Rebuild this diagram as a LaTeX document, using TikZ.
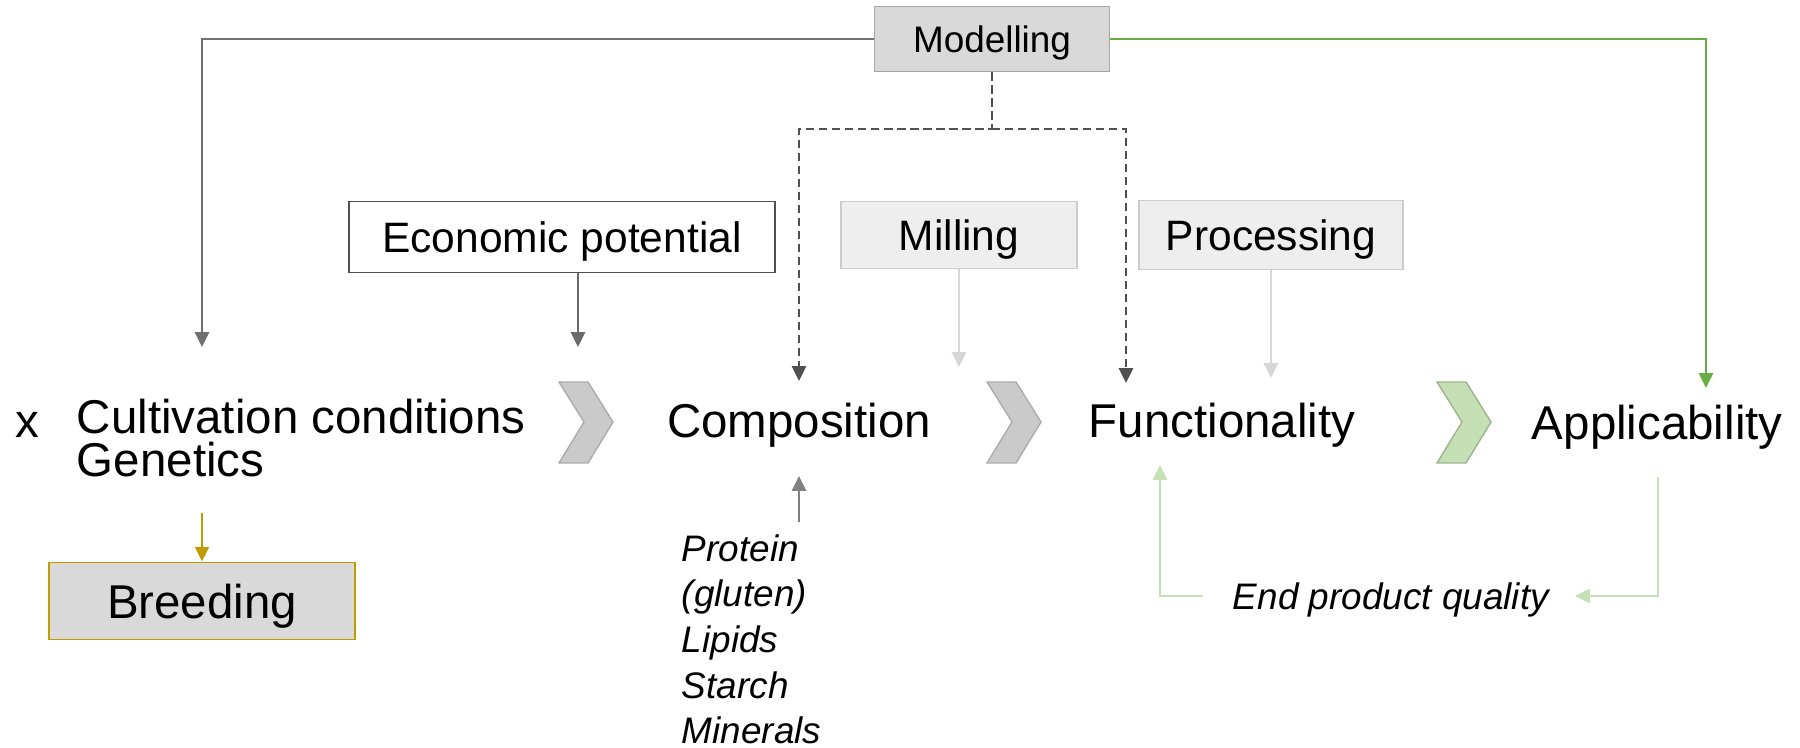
\documentclass[tikz,border=0pt]{standalone}
\usepackage{fontspec}
\setmainfont{Liberation Sans}
\usepackage{tikz}
\usetikzlibrary{positioning, arrows.meta}
\definecolor{whbox}{HTML}{D9D9D9}
\definecolor{whedge}{HTML}{A6A6A6}
\definecolor{whline}{HTML}{707070}
\definecolor{whdark}{HTML}{505050}
\definecolor{whlight}{HTML}{EEEEEE}
\definecolor{whlightedge}{HTML}{CCCCCC}
\definecolor{whlightarr}{HTML}{D6D6D6}
\definecolor{whgold}{HTML}{BF9C00}
\definecolor{whgreen}{HTML}{6AAD45}
\definecolor{whpale}{HTML}{C5E0B4}
\definecolor{whchev}{HTML}{CACACA}
\newcommand\fsbig{\fontsize{13.5}{12.5}\selectfont}
\newcommand\fsmid{\fontsize{12.1}{14}\selectfont}
\newcommand\fssmall{\fontsize{10.5}{13}\selectfont}

\begin{document}
\begin{tikzpicture}[x=0.1mm, y=-0.1mm, line width=0.55pt,
        >={Triangle[length=4.2pt, width=4pt]},
        box/.style={draw, inner sep=0pt, font=\fsmid, text height=8.7pt, text depth=0pt},
        lab/.style={inner sep=0pt, font=\fsbig},
        note/.style={inner sep=0pt, font=\fssmall\itshape, align=left},
        chev/.pic={\path[pic actions] (0,0) -- (29,0) -- (54,40) -- (29,81) -- (0,81) -- (25,40) -- cycle;}]
        \useasboundingbox (0,0) rectangle (1800,748);
        % boxes
        \node[box, fill=whbox, draw=whedge, font=\fssmall, text height=7.5pt, minimum width=23.5mm, minimum height=6.5mm] (model) at (992,39) {Modelling};
        \node[box, draw=whdark, minimum width=42.6mm, minimum height=7.1mm] (econ) at (562,237) {Economic potential};
        \node[box, fill=whlight, draw=whlightedge, minimum width=23.6mm, minimum height=6.7mm] (mill) at (959,235) {Milling};
        \node[box, fill=whlight, draw=whlightedge, minimum width=26.4mm, minimum height=6.9mm] (proc) at (1271,235) {Processing};
        \node[box, fill=whbox, draw=whgold, font=\fsbig, text height=9.7pt, minimum width=30.6mm, minimum height=7.7mm] (breed) at (202,601) {Breeding};
        % main row
        \node[lab, anchor=base west] (cross) at (15,438) {x};
        \node[lab, anchor=base west, align=left] (cult) at (76,477) {Cultivation conditions\\Genetics};
        \node[lab, anchor=base] (comp) at (799,438) {Composition};
        \node[lab, anchor=base west] (func) at (1088,438) {Functionality};
        \node[lab, anchor=base west] (appl) at (1531,440) {Applicability};
        \node[note, anchor=base west] (parts) at (681,744) {Protein\\(gluten)\\Lipids\\Starch\\Minerals};
        \node[note, anchor=base west] (endq) at (1232,610) {End product quality};
        \pic[fill=whchev, draw=whchev!85!black, line width=0.4pt] at (559,382) {chev};
        \pic[fill=whchev, draw=whchev!85!black, line width=0.4pt] at (987,382) {chev};
        \pic[fill=whpale, draw=whpale!80!black, line width=0.4pt] at (1437,382) {chev};
        % arrow ends
        \coordinate (cultin) at (202,347);
        \coordinate (econin) at (578,347);
        \coordinate (dsplit) at (992,129);
        \coordinate (compin) at (799,381);
        \coordinate (funcin) at (1126,383);
        \coordinate (millin) at (959,367);
        \coordinate (procin) at (1271,378);
        \coordinate (appin) at (1706,388);
        \coordinate (cultout) at (202,513);
        \coordinate (partsout) at (799,522);
        \coordinate (compup) at (799,476);
        \coordinate (applout) at (1658,477);
        \coordinate (endin) at (1575,596);
        \coordinate (endout) at (1203,596);
        \coordinate (funcup) at (1160,465);
        % connectors
        \draw[->, whline] (model.west) -| (cultin);
        \draw[->, whgreen] (model.east) -| (appin);
        \draw[->, whdark, dash pattern=on 2.3pt off 1.4pt] (model.south) -- (dsplit) -| (compin);
        \draw[->, whdark, dash pattern=on 2.3pt off 1.4pt] (dsplit) -| (funcin);
        \draw[->, whdark!85] (econ.south -| econin) -- (econin);
        \draw[->, whlightarr] (mill.south) -- (millin);
        \draw[->, whlightarr] (proc.south) -- (procin);
        \draw[->, whgold] (cultout) -- (breed.north);
        \draw[->, gray] (partsout) -- (compup);
        \draw[->, whpale] (applout) |- (endin);
        \draw[->, whpale] (endout) -| (funcup);
      \end{tikzpicture}
\end{document}
